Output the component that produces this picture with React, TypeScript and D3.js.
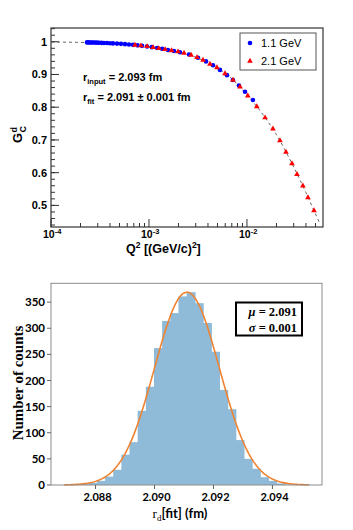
import React from "react";
import * as d3 from "d3";

// ---------- Top panel data ----------
const blueQ2 = [2.33e-4, 2.41e-4, 2.5e-4, 2.59e-4, 2.68e-4, 2.81e-4, 2.95e-4, 3.09e-4, 3.28e-4, 3.47e-4, 3.73e-4, 4.0e-4, 4.29e-4, 4.72e-4, 5.18e-4, 5.69e-4, 6.25e-4, 6.87e-4, 7.64e-4, 8.49e-4, 9.55e-4, 1.07e-3, 1.21e-3, 1.36e-3, 1.56e-3, 1.8e-3, 2.07e-3, 2.56e-3, 3.16e-3, 3.82e-3, 4.5e-3, 5.3e-3, 6.25e-3, 7.19e-3, 8.28e-3, 9.55e-3, 1.15e-2];
const blueG = [0.998, 0.998, 0.9978, 0.9977, 0.9976, 0.9974, 0.9972, 0.997, 0.9967, 0.9964, 0.996, 0.9955, 0.995, 0.9943, 0.9935, 0.9926, 0.9916, 0.9905, 0.989, 0.9875, 0.9856, 0.9835, 0.981, 0.9785, 0.975, 0.9715, 0.968, 0.961, 0.951, 0.94, 0.928, 0.914, 0.898, 0.883, 0.866, 0.847, 0.822];
const redQ2 = [7.2e-4, 8.28e-4, 9.55e-4, 1.1e-3, 1.26e-3, 1.46e-3, 1.7e-3, 1.98e-3, 2.28e-3, 2.69e-3, 3.09e-3, 3.56e-3, 4.19e-3, 4.94e-3, 5.97e-3, 7.2e-3, 8.49e-3, 1.02e-2, 1.26e-2, 1.53e-2, 1.84e-2, 2.17e-2, 2.5e-2, 2.88e-2, 3.24e-2, 3.72e-2, 4.19e-2, 4.83e-2];
const redG = [0.99, 0.988, 0.9856, 0.9825, 0.9795, 0.9765, 0.973, 0.9695, 0.9655, 0.9595, 0.952, 0.944, 0.932, 0.921, 0.903, 0.883, 0.862, 0.835, 0.802, 0.768, 0.734, 0.698, 0.663, 0.628, 0.595, 0.56, 0.524, 0.484];
const fitQ2 = [1e-4, 2e-4, 5e-4, 1e-3, 2e-3, 4e-3, 7e-3, 1e-2, 1.5e-2, 2e-2, 3e-2, 4e-2, 5e-2, 5.5e-2];
const fitG = [0.999, 0.998, 0.9935, 0.9855, 0.969, 0.936, 0.887, 0.838, 0.772, 0.716, 0.617, 0.539, 0.474, 0.447];
const topYTicks = [0.5, 0.6, 0.7, 0.8, 0.9, 1];
const topYTickLabels = ["0.5", "0.6", "0.7", "0.8", "0.9", "1"];
const topXExps = [-4, -3, -2];
const legendLabels = ["1.1 GeV", "2.1 GeV"];

// ---------- Bottom panel data ----------
const binStart = 2.08694;
const binWidth = 0.0002766;
const histCounts = [1, 1, 2, 4, 8, 16, 29, 58, 82, 142, 188, 262, 314, 329, 361, 369, 348, 310, 255, 182, 145, 86, 50, 31, 15, 8, 3, 1, 1, 1];
const gaussMu = 2.0911;
const gaussSigma = 0.0011;
const gaussAmp = 369;
const botXTicks = [2.088, 2.09, 2.092, 2.094];
const botXTickLabels = ["2.088", "2.090", "2.092", "2.094"];
const botYTicks = [0, 50, 100, 150, 200, 250, 300, 350];

const sans = "'Liberation Sans', Arial, Helvetica, sans-serif";
const cal = "Lato, 'Open Sans', sans-serif";
const serif = "'Liberation Serif', 'DejaVu Serif', serif";

export default function App() {
  // top scales
  const L = 51, R = 323, T = 28, B = 227;
  const x = d3.scaleLog().domain([1e-4, 0.0597]).range([L, R]);
  const y = d3.scaleLinear().domain([0.434, 1.042]).range([B, T]);

  const minorX: number[] = [];
  for (let e = -4; e <= -2; e++) for (let k = 2; k <= 9; k++) {
    const v = k * Math.pow(10, e);
    if (v < 0.0597) minorX.push(v);
  }
  const minorY = d3.range(0.44, 1.041, 0.02);

  const fitLine = d3.line<number>()
    .x((d, i) => x(fitQ2[i]))
    .y((d) => y(d))
    .curve(d3.curveMonotoneX);

  const tri = d3.symbol().type(d3.symbolTriangle).size(14)();

  // bottom scales
  const L2 = 51, R2 = 322, T2 = 283.3, B2 = 485;
  const x2 = d3.scaleLinear().domain([2.08649, 2.09568]).range([L2, R2]);
  const y2 = d3.scaleLinear().domain([0, 386]).range([B2, T2]);
  const gx = d3.range(0, 201).map((i) => binStart + (i / 200) * binWidth * histCounts.length);
  const gaussLine = d3.line<number>()
    .x((d) => x2(d))
    .y((d) => y2(gaussAmp * Math.exp(-((d - gaussMu) ** 2) / (2 * gaussSigma * gaussSigma))));

  return (
    <svg width={353} height={530} style={{ position: "absolute", left: 0, top: 0, background: "#fff" }}>
      {/* ================= TOP PANEL ================= */}
      <rect x={L} y={T} width={R - L} height={B - T} fill="#fff" stroke="#333" strokeWidth={1.2} />
      {minorY.map((v, i) => (
        <line key={"my" + i} x1={L} x2={L + 4} y1={y(v)} y2={y(v)} stroke="#333" strokeWidth={1} />
      ))}
      {topYTicks.map((v, i) => (
        <g key={"ty" + i}>
          <line x1={L} x2={L + 8} y1={y(v)} y2={y(v)} stroke="#333" strokeWidth={1} />
          <text x={L - 4} y={y(v)} dy="0.35em" textAnchor="end" fontFamily={sans} fontWeight="bold" fontSize={11}>
            {topYTickLabels[i]}
          </text>
        </g>
      ))}
      {minorX.map((v, i) => (
        <line key={"mx" + i} x1={x(v)} x2={x(v)} y1={B} y2={B - 4} stroke="#333" strokeWidth={1} />
      ))}
      {topXExps.map((e, i) => {
        const px = x(Math.pow(10, e));
        return (
          <g key={"tx" + i}>
            <line x1={px} x2={px} y1={B} y2={B - 8} stroke="#333" strokeWidth={1} />
            <text x={px - 8} y={238} fontFamily={sans} fontWeight="bold" fontSize={10.5}>
              10
              <tspan dy={-4.5} fontSize={7.5}>{String(e)}</tspan>
            </text>
          </g>
        );
      })}
      <path d={fitLine(fitG) || ""} fill="none" stroke="#666" strokeWidth={1} strokeDasharray="3,3" />
      {blueQ2.map((q, i) => (
        <circle key={"b" + i} cx={x(q)} cy={y(blueG[i])} r={2.3} fill="#0000ff" />
      ))}
      {redQ2.map((q, i) => (
        <path key={"r" + i} d={tri || ""} transform={`translate(${x(q)},${y(redG[i])})`} fill="#ff0000" />
      ))}
      {/* legend */}
      <rect x={240} y={33} width={76} height={37} fill="#fff" stroke="#555" strokeWidth={1} />
      <circle cx={250} cy={43} r={2.3} fill="#0000ff" />
      <path d={tri || ""} transform="translate(250,61)" fill="#ff0000" />
      <text x={261} y={47} fontFamily={sans} fontSize={11}>{legendLabels[0]}</text>
      <text x={261} y={65} fontFamily={sans} fontSize={11}>{legendLabels[1]}</text>
      {/* annotations */}
      <text x={83} y={81} fontFamily={sans} fontWeight="bold" fontSize={11}>
        r<tspan dy={3} fontSize={7.5}>input</tspan><tspan dy={-3}> = 2.093 fm</tspan>
      </text>
      <text x={83} y={101} fontFamily={sans} fontWeight="bold" fontSize={11}>
        r<tspan dy={3} fontSize={7.5}>fit</tspan><tspan dy={-3}> = 2.091 ± 0.001 fm</tspan>
      </text>
      {/* axis titles */}
      <g transform="translate(22,143) rotate(-90)" fontFamily={sans} fontWeight="bold">
        <text x={0} y={0} fontSize={13}>G</text>
        <text x={10.5} y={-5.5} fontSize={9}>d</text>
        <text x={10.5} y={3.5} fontSize={9}>C</text>
      </g>
      <text x={126} y={253} fontFamily={sans} fontWeight="bold" fontSize={12.5}>
        Q<tspan dy={-5} fontSize={8.5}>2</tspan><tspan dy={5}> [(GeV/c)</tspan><tspan dy={-5} fontSize={8.5}>2</tspan><tspan dy={5}>]</tspan>
      </text>

      {/* ================= BOTTOM PANEL ================= */}
      {histCounts.map((c, i) => {
        const x0 = x2(binStart + i * binWidth);
        const x1 = x2(binStart + (i + 1) * binWidth);
        return <rect key={"h" + i} x={x0} y={y2(c)} width={x1 - x0 + 0.8} height={B2 - y2(c)} fill="#8fbbd9" />;
      })}
      <path d={gaussLine(gx) || ""} fill="none" stroke="#ee8433" strokeWidth={1.6} />
      <rect x={L2} y={T2} width={R2 - L2} height={B2 - T2} fill="none" stroke="#8c8c8c" strokeWidth={1} />
      {botYTicks.map((v, i) => (
        <g key={"by" + i}>
          <line x1={L2 - 4} x2={L2} y1={y2(v)} y2={y2(v)} stroke="#666" strokeWidth={1} />
          <text x={L2 - 6} y={y2(v)} dy="0.35em" textAnchor="end" fontFamily={cal} fontWeight="bold" fontSize={11.5}>
            {String(v)}
          </text>
        </g>
      ))}
      {botXTicks.map((v, i) => (
        <g key={"bx" + i}>
          <line x1={x2(v)} x2={x2(v)} y1={B2} y2={B2 + 4} stroke="#666" strokeWidth={1} />
          <text x={x2(v) + 2} y={501} textAnchor="middle" fontFamily={cal} fontWeight="bold" fontSize={11}>
            {botXTickLabels[i]}
          </text>
        </g>
      ))}
      <rect x={236} y={302.5} width={66} height={33} fill="#fff" stroke="#000" strokeWidth={2} />
      <text x={297} y={316} textAnchor="end" fontFamily={serif} fontWeight="bold" fontSize={12.5}>
        <tspan fontStyle="italic">μ</tspan> = 2.091
      </text>
      <text x={297} y={331.5} textAnchor="end" fontFamily={serif} fontWeight="bold" fontSize={12.5}>
        <tspan fontStyle="italic">σ</tspan> = 0.001
      </text>
      <text transform="translate(23,383) rotate(-90)" textAnchor="middle" fontFamily={serif} fontWeight="bold" fontSize={15}>
        Number of counts
      </text>
      <text x={180} y={518} textAnchor="middle" fontSize={13}>
        <tspan fontFamily={serif}>r</tspan><tspan fontFamily={serif} dy={3} fontSize={9}>d</tspan>
        <tspan dy={-3} fontFamily={cal} fontWeight="bold">[fit] (fm)</tspan>
      </text>
    </svg>
  );
}
